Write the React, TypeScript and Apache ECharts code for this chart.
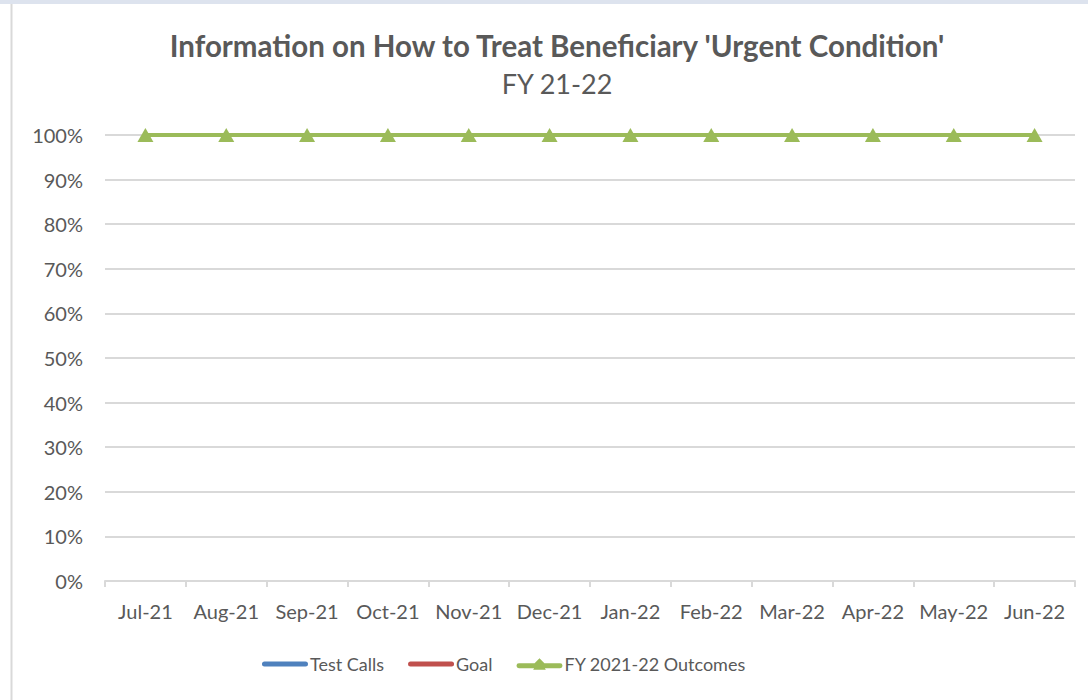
import React, { useEffect, useRef } from "react";
import * as echarts from "echarts";

const categories = ["Jul-21", "Aug-21", "Sep-21", "Oct-21", "Nov-21", "Dec-21", "Jan-22", "Feb-22", "Mar-22", "Apr-22", "May-22", "Jun-22"];
const testCalls: (number | null)[] = [null, null, null, null, null, null, null, null, null, null, null, null];
const goal: (number | null)[] = [null, null, null, null, null, null, null, null, null, null, null, null];
const outcomes = [100, 100, 100, 100, 100, 100, 100, 100, 100, 100, 100, 100];
const titleText = "Information on How to Treat Beneficiary 'Urgent Condition'";
const subtitleText = "FY 21-22";

const FONT = "Lato";
const GREY = "#595959";
const GRID = "#d9d9d9";

const BAR_ICON = "path://M2.5,0 L43.5,0 A2.5,2.5 0 0 1 43.5,5 L2.5,5 A2.5,2.5 0 0 1 2.5,0 Z";
const TRI_ICON = "path://M2,4 L18,4 L23,-1 L28,4 L44,4 A2.5,2.5 0 0 1 44,9 L28.5,9 L29.5,10.5 L16.5,10.5 L17.5,9 L2,9 A2.5,2.5 0 0 1 2,4 Z";

export default function App() {
  const ref = useRef<HTMLDivElement>(null);
  useEffect(() => {
    const chart = echarts.init(ref.current!, null, { renderer: "svg" });
    chart.setOption({
      animation: false,
      backgroundColor: "#ffffff",
      textStyle: { fontFamily: FONT },
      graphic: [
        { type: "rect", shape: { x: 0, y: 0, width: 1088, height: 4 }, style: { fill: "#dde3ee" } },
        { type: "line", shape: { x1: 11.5, y1: 4, x2: 11.5, y2: 700 }, style: { stroke: "#d9d9d9", lineWidth: 2 } },
        {
          type: "text", x: 557, y: 45,
          style: { text: titleText, fontFamily: FONT, fontWeight: "bold", fontSize: 29.5, fill: GREY, textAlign: "center", textVerticalAlign: "middle" },
        },
        {
          type: "text", x: 557, y: 83,
          style: { text: subtitleText, fontFamily: FONT, fontSize: 27, fill: GREY, textAlign: "center", textVerticalAlign: "middle" },
        },
      ],
      legend: {
        left: 257,
        top: 650,
        itemWidth: 46,
        itemHeight: 14,
        itemGap: 24,
        textStyle: { fontFamily: FONT, fontSize: 18, color: GREY, padding: [0, 0, 0, -3] },
        data: [
          { name: "Test Calls", icon: BAR_ICON, itemStyle: { color: "#4F81BD" } },
          { name: "Goal", icon: BAR_ICON, itemStyle: { color: "#C0504D" } },
          { name: "FY 2021-22 Outcomes", icon: TRI_ICON, itemStyle: { color: "#9BBB59" } },
        ],
      },
      grid: { left: 105, right: 13, top: 135, bottom: 119, containLabel: false },
      xAxis: {
        type: "category",
        data: categories,
        boundaryGap: true,
        axisLine: { lineStyle: { color: GRID, width: 2 } },
        axisTick: { show: true, length: 6, lineStyle: { color: GRID, width: 2 } },
        axisLabel: { color: GREY, fontSize: 20, fontFamily: FONT, margin: 20, interval: 0 },
      },
      yAxis: {
        type: "value",
        min: 0,
        max: 100,
        interval: 10,
        axisLine: { show: false },
        axisTick: { show: false },
        axisLabel: { color: GREY, fontSize: 20, fontFamily: FONT, margin: 22, formatter: "{value}%" },
        splitLine: { lineStyle: { color: GRID, width: 2 } },
      },
      series: [
        {
          name: "Test Calls",
          type: "line",
          data: testCalls,
          symbol: "circle",
          symbolSize: 3,
          itemStyle: { color: "#4F81BD" },
          lineStyle: { color: "#4F81BD", width: 5, cap: "round" },
        },
        {
          name: "Goal",
          type: "line",
          data: goal,
          symbol: "none",
          itemStyle: { color: "#C0504D" },
          lineStyle: { color: "#C0504D", width: 5, cap: "round" },
        },
        {
          name: "FY 2021-22 Outcomes",
          type: "line",
          data: outcomes,
          symbol: "triangle",
          symbolSize: [16, 14],
          itemStyle: { color: "#9BBB59" },
          lineStyle: { color: "#9BBB59", width: 4 },
        },
      ],
    });
    return () => chart.dispose();
  }, []);
  return <div ref={ref} style={{ position: "absolute", left: 0, top: 0, width: 1088, height: 700 }} />;
}
